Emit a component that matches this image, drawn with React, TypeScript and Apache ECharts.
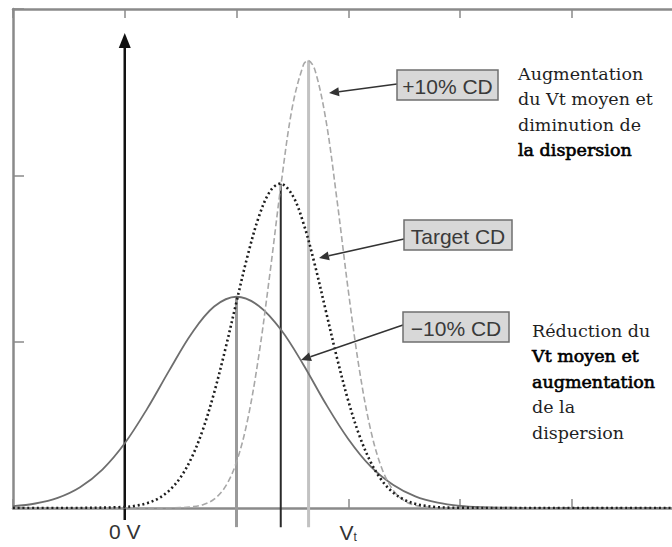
import React, { useEffect, useRef } from "react";
import * as echarts from "echarts";

// −10% CD (solid grey curve)
const minus10X = [-1.0, -0.8, -0.6, -0.4, -0.2, 0.0, 0.2, 0.4, 0.6, 0.8, 1.0, 1.2, 1.4, 1.6, 1.8, 2.0, 2.2, 2.4, 2.6, 2.8, 3.0, 3.2, 3.4, 3.6, 5.0];
const minus10Y = [0.011, 0.027, 0.061, 0.125, 0.231, 0.389, 0.596, 0.829, 1.051, 1.211, 1.27, 1.215, 1.07, 0.86, 0.625, 0.415, 0.25, 0.14, 0.07, 0.032, 0.013, 0.005, 0.002, 0, 0];

// Target CD (black dotted curve)
const targetX = [-1.0, -0.5, 0.0, 0.1, 0.2, 0.3, 0.4, 0.5, 0.6, 0.7, 0.8, 0.9, 1.0, 1.1, 1.2, 1.3, 1.39, 1.5, 1.6, 1.7, 1.8, 1.9, 2.0, 2.1, 2.2, 2.3, 2.4, 2.5, 2.6, 2.7, 2.8, 2.9, 3.0, 3.5, 5.0];
const targetY = [0, 0, 0.006, 0.014, 0.029, 0.057, 0.106, 0.185, 0.305, 0.473, 0.693, 0.955, 1.24, 1.518, 1.751, 1.904, 1.95, 1.881, 1.71, 1.465, 1.183, 0.9, 0.645, 0.435, 0.277, 0.166, 0.094, 0.05, 0.025, 0.012, 0.005, 0.002, 0.001, 0, 0];

// +10% CD (light grey dashed curve)
const plus10X = [-1.0, 0.0, 0.5, 0.6, 0.7, 0.8, 0.9, 1.0, 1.1, 1.2, 1.3, 1.4, 1.5, 1.6, 1.64, 1.7, 1.8, 1.9, 2.0, 2.1, 2.2, 2.3, 2.4, 2.5, 2.6, 2.7, 2.8, 3.0, 5.0];
const plus10Y = [0, 0, 0.002, 0.007, 0.02, 0.053, 0.128, 0.276, 0.532, 0.918, 1.415, 1.953, 2.412, 2.666, 2.69, 2.637, 2.333, 1.848, 1.309, 0.83, 0.471, 0.239, 0.109, 0.044, 0.016, 0.005, 0.001, 0, 0];

// means and peak heights of the three distributions (−10%, target, +10%)
const means = [1.0, 1.396, 1.645];
const peaks = [1.27, 1.95, 2.69];

// 0 V arrow
const zeroVolt = 0;
const arrowTop = 2.81;

const xTickLabels: Record<string, string> = { "0": "0 V", "2": "{v|V}{s|t}" };
const boxLabels = ["+10% CD", "Target CD", "\u221210% CD"];
const noteUpper = ["{r|Augmentation}", "{r|du Vt moyen et}", "{r|diminution de}", "{b|la dispersion}"];
const noteLower = ["{r|Réduction du}", "{b|Vt moyen et}", "{b|augmentation}", "{r|de la}", "{r|dispersion}"];

const SANS = "'Liberation Sans', Arial, Helvetica, sans-serif";
const SERIF = "'DejaVu Serif', serif";
const AXIS = "#8a8a8a";
const BELOW = -0.115;

function arrowEls(x1: number, y1: number, x2: number, y2: number, color: string) {
  const dx = x2 - x1;
  const dy = y2 - y1;
  const len = Math.sqrt(dx * dx + dy * dy);
  const ux = dx / len;
  const uy = dy / len;
  const hl = 10;
  const hw = 4.5;
  const bx = x2 - ux * hl;
  const by = y2 - uy * hl;
  return [
    { type: "line", shape: { x1, y1, x2: bx, y2: by }, style: { stroke: color, lineWidth: 1.5 }, z: 20 },
    {
      type: "polygon",
      shape: { points: [[x2, y2], [bx - uy * hw, by + ux * hw], [bx + uy * hw, by - ux * hw]] },
      style: { fill: color },
      z: 20,
    },
  ];
}

function boxEls(x: number, y: number, w: number, h: number, label: string) {
  return [
    { type: "rect", shape: { x, y, width: w, height: h }, style: { fill: "#d8d8d8", stroke: "#6f6f6f", lineWidth: 1.5 }, z: 20 },
    {
      type: "text",
      x: x + w / 2,
      y: y + h / 2 + 1,
      style: { text: label, font: "21px " + SANS, fill: "#3a3a3a", align: "center", verticalAlign: "middle" },
      z: 21,
    },
  ];
}

function noteEl(x: number, y: number, lines: string[]) {
  return {
    type: "text",
    x,
    y,
    style: {
      text: lines.join("\n"),
      font: "17.5px " + SERIF,
      fill: "#1a1a1a",
      lineHeight: 25.5,
      align: "left",
      verticalAlign: "top",
      rich: {
        r: { font: "17.5px " + SERIF, fill: "#1f1f1f", lineHeight: 25.5 },
        b: { font: "17.5px " + SERIF, fill: "#000", lineHeight: 25.5, stroke: "#000", lineWidth: 0.6 },
      },
    },
    z: 20,
  };
}

function pairs(xs: number[], ys: number[]) {
  return xs.map((x, i) => [x, ys[i]]);
}

export default function App() {
  const ref = useRef<HTMLDivElement>(null);

  useEffect(() => {
    if (!ref.current) return;
    const chart = echarts.init(ref.current, undefined, { renderer: "svg" });

    const vColors = ["#9a9a9a", "#2a2a2a", "#c2c2c2"];
    const vWidths = [3, 2, 3];
    const verticalSeries = means.map((m, i) => ({
      type: "line",
      data: [[m, BELOW], [m, peaks[i]]],
      symbol: "none",
      clip: false,
      silent: true,
      z: 1,
      lineStyle: { color: vColors[i], width: vWidths[i] },
    }));

    const axisCommon = {
      type: "value",
      min: -1,
      max: 5,
      interval: 1,
      splitLine: { show: false },
      axisLine: { show: true, onZero: false, lineStyle: { color: AXIS, width: 2.5 } },
      axisTick: { show: true, inside: true, length: 9, lineStyle: { color: AXIS, width: 1.5 } },
    };

    chart.setOption({
      animation: false,
      backgroundColor: "#ffffff",
      grid: { left: 13, right: 16.5, top: 9, bottom: 39, containLabel: false },
      xAxis: [
        {
          ...axisCommon,
          position: "bottom",
          axisLabel: {
            show: true,
            interval: 0,
            margin: 13,
            fontSize: 21,
            fontFamily: SANS,
            color: "#333",
            formatter: (v: number) => xTickLabels[String(v)] || "",
            rich: {
              v: { fontSize: 21, fontFamily: SANS, color: "#333", lineHeight: 22 },
              s: { fontSize: 12, fontFamily: SANS, color: "#333", verticalAlign: "bottom", lineHeight: 10 },
            },
          },
        },
        {
          ...axisCommon,
          position: "top",
          axisLabel: { show: false },
        },
      ],
      yAxis: {
        type: "value",
        min: 0,
        max: 3,
        interval: 1,
        splitLine: { show: false },
        axisLabel: { show: false },
        axisLine: { show: true, onZero: false, lineStyle: { color: AXIS, width: 2.5 } },
        axisTick: { show: true, inside: true, length: 11, lineStyle: { color: AXIS, width: 1.5 } },
      },
      series: [
        ...verticalSeries,
        {
          name: "0 V",
          type: "line",
          clip: false,
          silent: true,
          z: 3,
          showSymbol: true,
          data: [
            { value: [zeroVolt, -0.072], symbol: "none" },
            { value: [zeroVolt, arrowTop], symbol: "triangle", symbolSize: [12, 15] },
          ],
          lineStyle: { color: "#111", width: 2.5 },
          itemStyle: { color: "#111" },
        },
        {
          name: "-10% CD",
          type: "line",
          data: pairs(minus10X, minus10Y),
          smooth: 0.35,
          symbol: "none",
          z: 4,
          lineStyle: { color: "#6e6e6e", width: 1.8 },
        },
        {
          name: "Target CD",
          type: "line",
          data: pairs(targetX, targetY),
          smooth: 0.35,
          symbol: "none",
          z: 5,
          lineStyle: { color: "#1e1e1e", width: 2.6, type: [2, 2.8] },
        },
        {
          name: "+10% CD",
          type: "line",
          data: pairs(plus10X, plus10Y),
          smooth: 0.35,
          symbol: "none",
          z: 4,
          lineStyle: { color: "#a8a8a8", width: 1.6, type: [6, 3] },
        },
      ],
      graphic: [
        ...arrowEls(397, 84, 329, 93, "#333"),
        ...arrowEls(404, 239, 319, 258, "#333"),
        ...arrowEls(403, 325, 301, 360, "#333"),
        ...boxEls(397, 70, 101, 30, boxLabels[0]),
        ...boxEls(404, 220, 108, 30, boxLabels[1]),
        ...boxEls(403, 312, 106, 30, boxLabels[2]),
        noteEl(518, 61, noteUpper),
        noteEl(532, 318, noteLower),
      ],
    });

    return () => chart.dispose();
  }, []);

  return (
    <div style={{ position: "absolute", left: 0, top: 0, width: 672, height: 547, overflow: "hidden", background: "#fff" }}>
      <div ref={ref} style={{ width: 700, height: 547 }} />
    </div>
  );
}
